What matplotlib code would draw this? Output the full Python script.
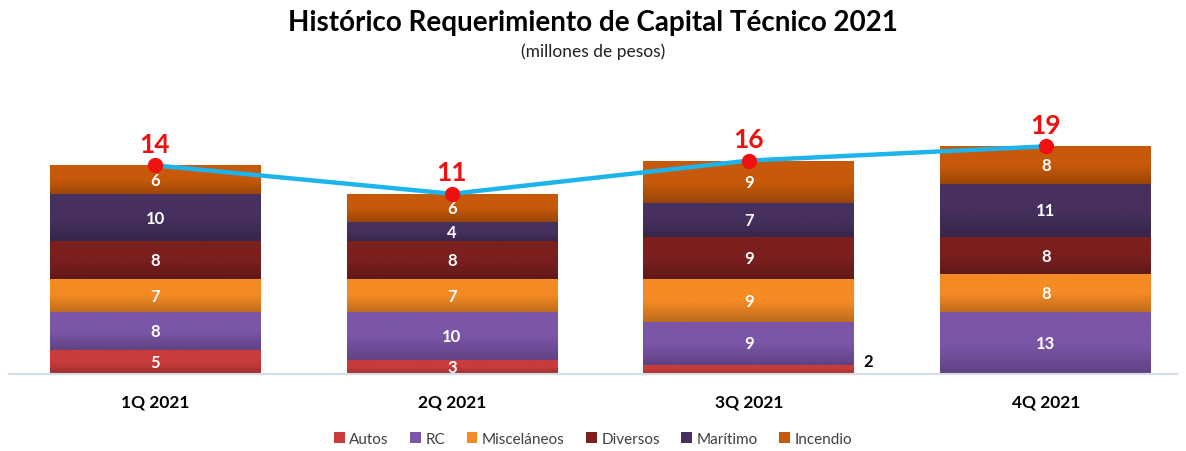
import numpy as np
import matplotlib.pyplot as plt
from matplotlib.colors import LinearSegmentedColormap, to_rgb

# --- data (millones de pesos) ---
quarters = ["1Q 2021", "2Q 2021", "3Q 2021", "4Q 2021"]
autos = [5, 3, 2, 0]
rc = [8, 10, 9, 13]
misc = [7, 7, 9, 8]
diversos = [8, 8, 9, 8]
maritimo = [10, 4, 7, 11]
incendio = [6, 6, 9, 8]
totals = [14, 11, 16, 19]

series = [("Autos", autos, "#c93c3c"),
          ("RC", rc, "#7b56a8"),
          ("Misceláneos", misc, "#f58b24"),
          ("Diversos", diversos, "#7c1f1f"),
          ("Marítimo", maritimo, "#47305f"),
          ("Incendio", incendio, "#c75a0a")]

plt.rcParams['font.family'] = ['Lato', 'DejaVu Sans']

fig = plt.figure(figsize=(11.86, 4.52), dpi=100)
ax = fig.add_axes([0.008, 0.17, 0.984, 0.63])

x = np.arange(len(quarters))
width = 0.71
bottom = np.zeros(len(quarters))


def shade(c):
    # light top -> darker bottom, like the office-style gradient fill
    r, g, b = to_rgb(c)
    dark = (r * 0.78, g * 0.78, b * 0.78)
    return LinearSegmentedColormap.from_list("g", [dark, (r, g, b), (r, g, b)])


for name, vals, color in series:
    bars = ax.bar(x, vals, width, bottom=bottom, color=color, label=name,
                  linewidth=0)
    for bar in bars:
        if bar.get_height() <= 0:
            continue
        bx, by = bar.get_x(), bar.get_y()
        im = ax.imshow(np.linspace(0, 1, 50).reshape(-1, 1), cmap=shade(color),
                       origin="lower", aspect="auto", interpolation="bicubic",
                       extent=(bx, bx + bar.get_width(), by, by + bar.get_height()),
                       zorder=bar.get_zorder())
        im.set_clip_path(bar)
    for xi, v, b0 in zip(x, vals, bottom):
        if v >= 3:
            ax.text(xi, b0 + v / 2, str(v), ha="center", va="center",
                    color="white", fontsize=12, fontweight="bold", zorder=5)
        elif v > 0:
            ax.text(xi + width / 2 + 0.03, b0 + v / 2 + 1.7, str(v), ha="left",
                    va="center", color="black", fontsize=12, fontweight="bold",
                    zorder=5)
    bottom = bottom + np.array(vals)

# total line sitting on the top of each stack
ax.plot(x, bottom, color="#1cb4ea", linewidth=3.2, zorder=6,
        marker="o", markersize=10, markerfacecolor="#ee1111",
        markeredgecolor="#ee1111")
for xi, top, t in zip(x, bottom, totals):
    ax.text(xi, top + 2.0, str(t), ha="center", va="bottom", color="#ee1111",
            fontsize=19, fontweight="bold", zorder=7)

ax.set_xlim(-0.49, 3.44)
ax.set_ylim(0, 60)
ax.set_xticks(x)
ax.set_xticklabels(quarters, fontsize=12.5, fontweight="bold")
ax.tick_params(axis="x", length=0, pad=14)
ax.set_yticks([])
for s in ["top", "right", "left"]:
    ax.spines[s].set_visible(False)
ax.spines["bottom"].set_color("#d5dde8")
ax.spines["bottom"].set_linewidth(1.5)

fig.text(0.5, 0.95, "Histórico Requerimiento de Capital Técnico 2021",
         ha="center", va="center", fontsize=20, fontweight="bold")
fig.text(0.5, 0.885, "(millones de pesos)", ha="center", va="center",
         fontsize=12.5, color="#222222")

fig.legend(loc="center", bbox_to_anchor=(0.5, 0.027), ncol=6, frameon=False,
           fontsize=11, handlelength=0.7, handleheight=0.7, handletextpad=0.3,
           columnspacing=1.4, labelcolor="#404040")

fig.savefig("out.png", dpi=100)
